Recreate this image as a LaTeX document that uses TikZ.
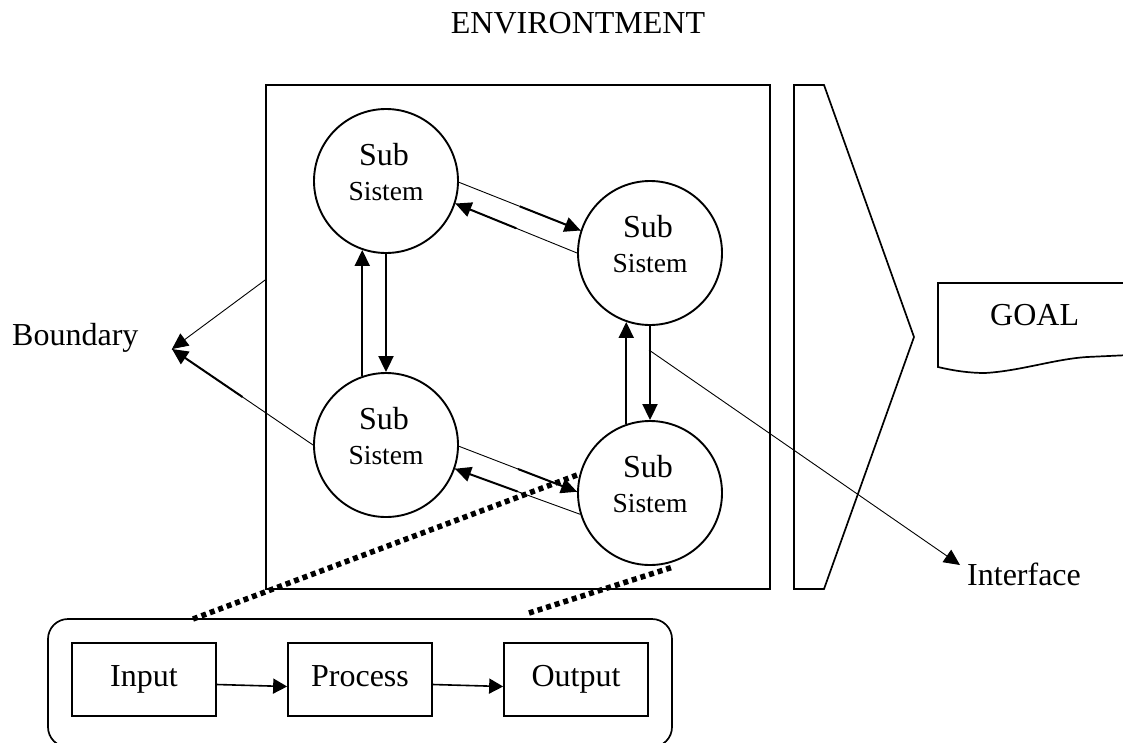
\documentclass[tikz,border=0pt]{standalone}
\usepackage{fontspec}
\setmainfont{Liberation Serif}
\usetikzlibrary{arrows.meta,calc}
\newcommand\pairarr[2]{\draw[thinln] (#1) -- (#2); \draw[arr] ($(#1)!0.5!(#2)$) -- (#2);}
\begin{document}
\begin{tikzpicture}[x=1pt,y=-1pt,
  box/.style={draw, line width=1.7pt},
  sub/.style={draw, circle, minimum size=144pt, inner sep=0pt, line width=1.9pt},
  thinln/.style={line width=0.9pt},
  arr/.style={line width=2pt, -{Triangle[length=16pt,width=15pt]}},
  sarr/.style={line width=0.9pt, -{Triangle[length=16pt,width=15pt]}},
  dots/.style={line width=5.5pt, dash pattern=on 5pt off 4pt},
  lbl/.style={font=\fontsize{32}{38}\selectfont},
  subt/.style={font=\fontsize{32}{38}\selectfont, anchor=base, inner sep=0pt},
  sist/.style={font=\fontsize{27.5}{32}\selectfont, anchor=base, inner sep=0pt},
  ipobox/.style={box, font=\fontsize{32}{38}\selectfont, minimum width=144pt, minimum height=73pt, text height=22pt, text depth=7.5pt, inner sep=0pt},
]
\useasboundingbox (0,0) rectangle (1123,742);

% title
\node[lbl, anchor=base] (env) at (578,33) {ENVIRONTMENT};

% system boundary
\node[box, minimum width=504pt, minimum height=504pt, inner sep=0pt] (sys) at (518,337) {};

% interface chevron
\draw[box, line join=miter] (794,85) -- (824,85) -- (914,337) -- (824,589) -- (794,589) -- cycle;

% goal shape
\draw[box] (1130,283) -- (938,283) -- (938,367)
  .. controls (955,371) and (970,373) .. (985,373)
  .. controls (1020,371) and (1055,359) .. (1087,357) -- (1130,355);
\node[lbl, anchor=base west, inner sep=0pt] (goal) at (990,325) {GOAL};

% subsystems
\node[sub] (c1) at (386,181) {};
\node[sub] (c2) at (650,253) {};
\node[sub] (c3) at (386,445) {};
\node[sub] (c4) at (650,493) {};
\foreach \c in {c1,c2,c3,c4}{
  \node[subt] at ($(\c)+(-2,-16)$) {Sub};
  \node[sist] at ($(\c)+(0,19)$) {Sistem};
}

% connectors between subsystems
\pairarr{c1.-1}{c2.162}
\pairarr{c2.180}{c1.-18}
\pairarr{c3.-1}{c4.179}
\pairarr{c4.197}{c3.-19}
\draw[arr] (c1.south) -- (c3.north);
\draw[arr] (c3.109.47) -- (c1.-109.47);
\draw[arr] (c2.south) -- (c4.north);
\draw[arr] (c4.109.47) -- (c2.-109.47);

% boundary label
\node[lbl, anchor=base west, inner sep=0pt] (bnd) at (12,345) {Boundary};
\coordinate (bt) at (172,349);
\draw[sarr] ([yshift=57pt]sys.west) -- (bt);
\pairarr{c3.west}{bt}

% interface label
\node[lbl, anchor=base west, inner sep=0pt] (ifc) at (967,585) {Interface};
\coordinate (ifs) at (649,350);
\coordinate (ift) at (960,565);
\draw[sarr] (ifs) -- (ift);

% input-process-output
\node[box, rounded corners=20pt, minimum width=624pt, minimum height=128pt, inner sep=0pt] (ipo) at (360,683) {};
\node[ipobox] (in) at (144,679.5) {Input};
\node[ipobox] (pr) at (360,679.5) {Process};
\node[ipobox] (out) at (576,679.5) {Output};
\draw[line width=1.6pt, -{Triangle[length=14pt,width=15pt]}] ([yshift=-5pt]in.east) -- ([yshift=-7pt]pr.west);
\draw[line width=1.6pt, -{Triangle[length=14pt,width=15pt]}] ([yshift=-5pt]pr.east) -- ([yshift=-7pt]out.west);

% zoom lines
\coordinate (d1a) at (193,619);
\coordinate (d1b) at (577,475);
\coordinate (d2a) at (529,613);
\coordinate (d2b) at (673,567);
\draw[dots] (d1a) -- (d1b);
\draw[dots] (d2a) -- (d2b);
\end{tikzpicture}
\end{document}
